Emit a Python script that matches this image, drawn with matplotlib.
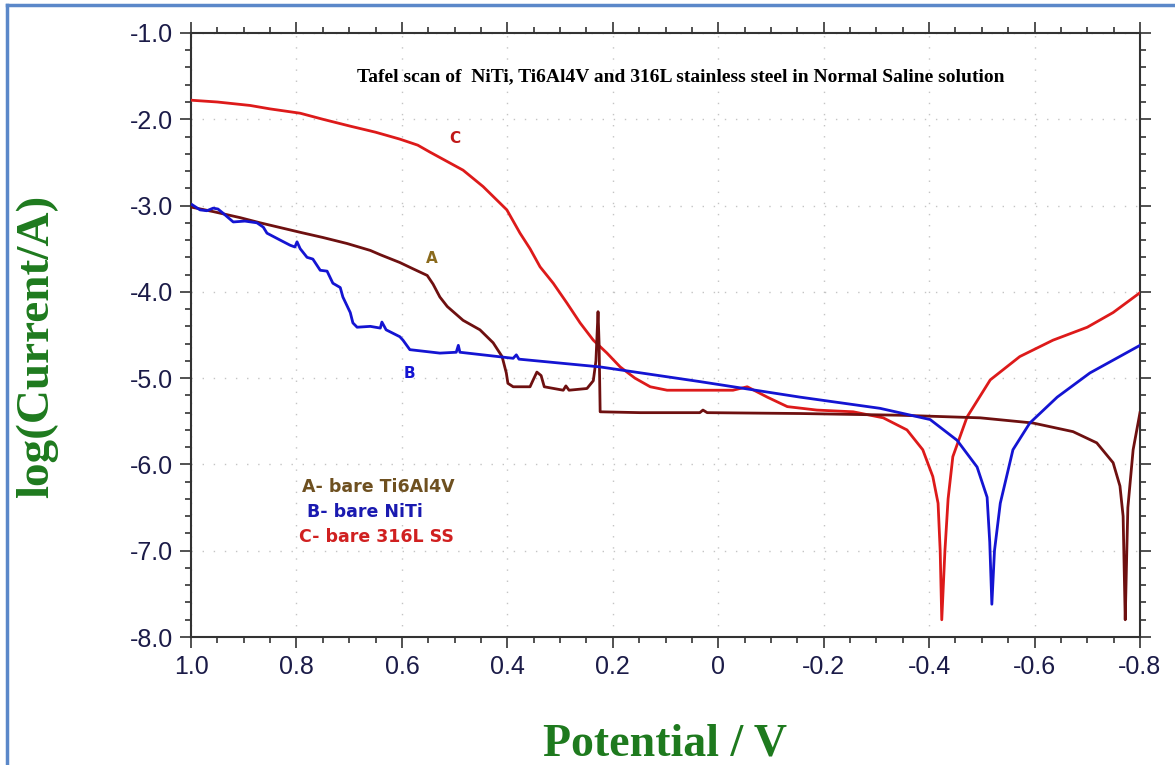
import matplotlib
matplotlib.use("Agg")
import matplotlib.pyplot as plt
from matplotlib.lines import Line2D
from matplotlib.ticker import MultipleLocator, FixedFormatter, FixedLocator

# Tafel data (potential in V, log current in A)
ti64_e = [0.998, 0.958, 0.907, 0.869, 0.793, 0.750, 0.704, 0.660, 0.641, 0.604,
          0.580, 0.552, 0.541, 0.528, 0.514, 0.484, 0.452, 0.427, 0.410, 0.402,
          0.399, 0.389, 0.357, 0.351, 0.344, 0.336, 0.330, 0.294, 0.289, 0.283,
          0.249, 0.237, 0.232, 0.228, 0.226, 0.224, 0.148, 0.035, 0.029, 0.021,
          -0.155, -0.345, -0.497, -0.597, -0.673, -0.718, -0.749, -0.762, -0.768,
          -0.770, -0.772, -0.775, -0.777, -0.787, -0.800]
ti64_logi = [-3.02, -3.07, -3.14, -3.20, -3.31, -3.37, -3.44, -3.52, -3.57, -3.66,
             -3.73, -3.81, -3.91, -4.06, -4.17, -4.33, -4.44, -4.59, -4.75, -4.94,
             -5.06, -5.10, -5.10, -5.02, -4.93, -4.97, -5.10, -5.14, -5.09, -5.14,
             -5.12, -5.03, -4.80, -4.23, -4.60, -5.39, -5.40, -5.40, -5.37, -5.40,
             -5.41, -5.43, -5.46, -5.52, -5.62, -5.75, -5.98, -6.25, -6.60,
             -7.20, -7.80, -7.00, -6.50, -5.83, -5.40]

niti_e = [0.998, 0.983, 0.970, 0.958, 0.949, 0.939, 0.920, 0.898, 0.875, 0.863,
          0.856, 0.831, 0.812, 0.803, 0.799, 0.793, 0.780, 0.769, 0.755, 0.742,
          0.731, 0.717, 0.712, 0.698, 0.693, 0.685, 0.660, 0.641, 0.638, 0.630,
          0.617, 0.604, 0.598, 0.585, 0.528, 0.497, 0.493, 0.490, 0.389, 0.383,
          0.378, 0.224, 0.035, -0.155, -0.307, -0.402, -0.453, -0.491, -0.510,
          -0.515, -0.519, -0.524, -0.535, -0.559, -0.591, -0.643, -0.705, -0.800]
niti_logi = [-2.99, -3.05, -3.06, -3.03, -3.04, -3.09, -3.19, -3.18, -3.20, -3.25,
             -3.32, -3.40, -3.46, -3.48, -3.42, -3.50, -3.60, -3.62, -3.75, -3.76,
             -3.90, -3.95, -4.06, -4.24, -4.36, -4.41, -4.40, -4.42, -4.35, -4.44,
             -4.48, -4.52, -4.56, -4.67, -4.71, -4.70, -4.62, -4.70, -4.77, -4.73,
             -4.78, -4.87, -5.04, -5.22, -5.35, -5.48, -5.72, -6.03, -6.38,
             -6.90, -7.62, -7.00, -6.45, -5.83, -5.52, -5.22, -4.94, -4.62]

ss316_e = [0.998, 0.950, 0.888, 0.850, 0.793, 0.750, 0.698, 0.650, 0.604, 0.570,
           0.547, 0.520, 0.484, 0.446, 0.401, 0.376, 0.357, 0.338, 0.313, 0.287,
           0.262, 0.237, 0.211, 0.186, 0.158, 0.129, 0.097, -0.028, -0.055, -0.093,
           -0.131, -0.187, -0.256, -0.313, -0.358, -0.388, -0.407, -0.417, -0.421,
           -0.424, -0.430, -0.436, -0.445, -0.472, -0.516, -0.572, -0.635, -0.700,
           -0.749, -0.800]
ss316_logi = [-1.78, -1.80, -1.84, -1.88, -1.93, -2.00, -2.08, -2.15, -2.23, -2.30,
              -2.38, -2.47, -2.59, -2.78, -3.05, -3.32, -3.50, -3.71, -3.90, -4.13,
              -4.36, -4.56, -4.71, -4.87, -5.00, -5.10, -5.14, -5.14, -5.10, -5.22,
              -5.33, -5.37, -5.39, -5.46, -5.60, -5.83, -6.14, -6.45, -7.00,
              -7.80, -7.00, -6.40, -5.91, -5.45, -5.02, -4.75, -4.56, -4.41,
              -4.24, -4.01]

x_ticks = [1.0, 0.8, 0.6, 0.4, 0.2, 0.0, -0.2, -0.4, -0.6, -0.8]
x_tick_labels = ["1.0", "0.8", "0.6", "0.4", "0.2", "0", "-0.2", "-0.4", "-0.6", "-0.8"]
y_ticks = [-1.0, -2.0, -3.0, -4.0, -5.0, -6.0, -7.0, -8.0]
y_tick_labels = ["-1.0", "-2.0", "-3.0", "-4.0", "-5.0", "-6.0", "-7.0", "-8.0"]

red = "#dd1a1a"
blue = "#1414d2"
brown = "#6e1010"
tick_color = "#1b1b48"
green = "#1e7a1e"


def main():
    fig = plt.figure(figsize=(11.75, 7.65), dpi=100)
    ax = fig.add_axes([0.1626, 0.1673, 0.8076, 0.7896])

    ax.plot(ss316_e, ss316_logi, color=red, lw=2.0, zorder=3)
    ax.plot(ti64_e, ti64_logi, color=brown, lw=2.0, zorder=4)
    ax.plot(niti_e, niti_logi, color=blue, lw=2.0, zorder=5)

    ax.set_xlim(1.0, -0.8)
    ax.set_ylim(-8.0, -1.0)

    ax.xaxis.set_major_locator(FixedLocator(x_ticks))
    ax.xaxis.set_major_formatter(FixedFormatter(x_tick_labels))
    ax.xaxis.set_minor_locator(MultipleLocator(0.05))
    ax.yaxis.set_major_locator(FixedLocator(y_ticks))
    ax.yaxis.set_major_formatter(FixedFormatter(y_tick_labels))
    ax.yaxis.set_minor_locator(MultipleLocator(0.2))

    ax.tick_params(which="both", direction="out", top=True, right=True,
                   color="#333333", width=1.2)
    ax.tick_params(which="major", length=8, labelsize=18, labelcolor=tick_color, pad=5)
    ax.tick_params(which="minor", length=4)
    for lab in ax.get_xticklabels() + ax.get_yticklabels():
        lab.set_fontfamily("Liberation Sans")
    for sp in ax.spines.values():
        sp.set_color("#333333")
        sp.set_linewidth(1.5)

    ax.grid(True, which="major", color="#c4c4c4", lw=1.0, linestyle=(0, (1, 7)))

    # title inside the plot area
    ax.text(0.072, -1.51, "Tafel scan of  NiTi, Ti6Al4V and 316L stainless steel in Normal Saline solution",
            ha="center", va="center", fontsize=14, fontweight="bold",
            family="Liberation Serif", color="black")

    # curve labels
    ax.text(0.499, -2.22, "C", color="#c01818", fontsize=11, fontweight="bold",
            ha="center", va="center", family="DejaVu Sans")
    ax.text(0.543, -3.61, "A", color="#8a6a1c", fontsize=11, fontweight="bold",
            ha="center", va="center", family="DejaVu Sans")
    ax.text(0.585, -4.95, "B", color=blue, fontsize=11, fontweight="bold",
            ha="center", va="center", family="DejaVu Sans")

    # legend text
    ax.text(0.789, -6.26, "A- bare Ti6Al4V", color="#6e5020", fontsize=12.5,
            fontweight="bold", ha="left", va="center", family="DejaVu Sans")
    ax.text(0.780, -6.55, "B- bare NiTi", color="#1a1ab0", fontsize=12.5,
            fontweight="bold", ha="left", va="center", family="DejaVu Sans")
    ax.text(0.795, -6.84, "C- bare 316L SS", color="#d02020", fontsize=12.5,
            fontweight="bold", ha="left", va="center", family="DejaVu Sans")

    fig.text(37 / 1175, 1 - 346 / 765, "log(Current/A)", rotation=90, color=green,
             fontsize=34, fontweight="bold", family="Liberation Serif",
             ha="center", va="center")
    fig.text(665 / 1175, 1 - 744 / 765, "Potential / V", color=green,
             fontsize=33, fontweight="bold", family="Liberation Serif",
             ha="center", va="center")

    # light blue frame on the left and top
    frame = "#5b88c9"
    fig.add_artist(Line2D([7 / 1175, 7 / 1175], [0, 1 - 5 / 765], color=frame, lw=2.5,
                          transform=fig.transFigure))
    fig.add_artist(Line2D([7 / 1175, 1], [1 - 5 / 765, 1 - 5 / 765], color=frame, lw=2.5,
                          transform=fig.transFigure))

    fig.savefig("out.png", dpi=100)


if __name__ == "__main__":
    main()
